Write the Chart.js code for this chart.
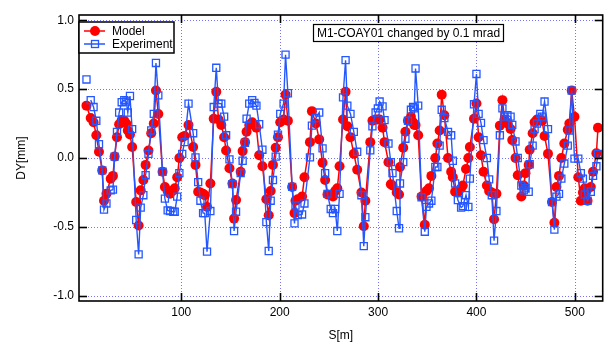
<!DOCTYPE html>
<html><head><meta charset="utf-8">
<script src="https://cdn.jsdelivr.net/npm/chart.js@4/dist/chart.umd.min.js"></script>
<style>html,body{margin:0;padding:0;background:#fff;}canvas{display:block;}</style>
</head><body>
<canvas id="c" width="609" height="343"></canvas>
<script>
// ---- data ----
const sPos = [3.7,8.0,10.9,13.7,16.4,19.7,21.5,24.0,28.3,30.6,32.3,34.7,36.9,39.5,42.1,44.1,45.7,47.9,50.1,54.2,
56.7,58.8,61.5,63.8,66.7,69.5,72.1,74.3,76.7,81.0,83.4,86.2,88.6,91.9,93.4,95.9,98.1,101.0,103.4,107.4,
112.1,114.5,117.2,119.5,122.2,123.9,126.2,129.6,133.0,135.6,137.9,140.7,143.6,145.6,149.0,152.0,153.7,155.7,160.4,162.4,
164.8,166.4,169.1,172.1,174.4,176.4,179.2,182.5,186.5,188.9,190.9,193.2,196.0,198.3,200.6,204.0,206.0,208.4,212.7,215.1,
216.1,218.4,222.8,225.2,230.8,232.8,236.8,240.2,243.6,246.2,248.6,251.9,254.2,256.4,258.6,260.9,264.4,267.0,268.8,272.0,
275.4,278.8,283.1,285.5,287.1,292.1,294.3,297.5,299.8,301.6,304.6,306.6,310.6,313.0,314.7,319.0,321.3,322.3,325.6,327.8,
330.4,333.4,335.6,336.8,338.1,340.8,344.2,347.5,349.2,351.8,354.2,358.2,360.3,362.6,364.7,367.4,371.1,374.3,376.0,378.3,
381.1,384.4,386.1,389.4,391.8,393.3,397.5,400.0,402.2,404.6,407.2,410.6,412.9,415.6,417.9,420.3,423.8,426.4,428.6,431.5,
434.7,436.4,439.7,442.0,445.6,448.1,449.8,453.1,454.1,457.1,459.1,461.5,464.9,466.7,469.2,472.7,476.8,479.2,481.3,483.9,
486.3,489.3,492.8,494.4,496.8,499.6,503.5,506.1,508.2,510.1,512.9,516.2,518.5,521.9,523.5];

const modelDY = [0.38,0.29,0.26,0.165,0.045,-0.09,-0.31,-0.26,-0.15,-0.13,0.01,0.15,0.245,0.275,0.27,0.25,0.20,0.17,0.08,-0.32,
-0.49,-0.235,-0.16,-0.05,0.055,0.18,0.25,0.49,0.32,-0.10,-0.21,-0.24,-0.26,-0.235,-0.22,-0.14,0.0,0.15,0.16,0.24,
0.08,-0.05,-0.245,-0.25,-0.26,-0.27,-0.355,-0.185,0.285,0.48,0.28,0.24,0.15,0.055,-0.075,-0.185,-0.44,-0.305,-0.10,0.05,
0.115,0.19,0.24,0.26,0.24,0.22,0.02,-0.06,-0.30,-0.415,-0.24,-0.05,0.075,0.15,0.26,0.28,0.46,0.27,-0.21,-0.40,
-0.31,-0.30,-0.28,-0.14,0.115,0.34,0.25,0.135,-0.035,-0.16,-0.265,-0.27,-0.28,-0.24,-0.22,-0.06,0.28,0.48,0.23,0.15,
0.03,-0.085,-0.25,-0.495,-0.31,0.115,0.27,0.28,0.28,0.28,0.22,0.115,-0.03,-0.19,-0.20,-0.25,-0.265,-0.065,0.075,0.19,
0.27,0.30,0.26,0.24,0.24,0.165,-0.28,-0.485,-0.24,-0.22,-0.13,0.0,0.105,0.20,0.46,0.31,0.0,-0.10,-0.14,-0.245,
-0.25,-0.22,-0.20,-0.08,0.0,0.08,0.285,0.395,0.15,0.02,-0.10,-0.20,-0.24,-0.25,-0.445,-0.26,0.235,0.42,0.28,0.25,
0.21,0.13,0.0,-0.125,-0.28,-0.20,-0.11,-0.05,0.06,0.18,0.26,0.28,0.27,0.27,0.16,0.03,-0.32,-0.47,-0.21,-0.13,
0.0,0.105,0.205,0.25,0.49,0.30,-0.14,-0.31,-0.25,-0.22,-0.31,-0.21,-0.10,0.035,0.22];

const expDY = [0.57,0.42,0.37,0.27,0.10,-0.09,-0.375,-0.33,-0.235,-0.23,0.01,0.19,0.33,0.405,0.42,0.41,0.33,0.45,0.21,-0.45,
-0.70,-0.36,-0.27,-0.125,0.03,0.20,0.32,0.69,0.455,-0.10,-0.295,-0.38,-0.385,-0.39,-0.39,-0.28,-0.11,0.03,0.115,0.395,
0.18,0.005,-0.175,-0.31,-0.40,-0.40,-0.68,-0.385,0.37,0.655,0.395,0.395,0.30,0.165,-0.01,-0.19,-0.53,-0.39,-0.11,-0.02,
0.11,0.285,0.395,0.42,0.40,0.38,0.245,0.06,-0.465,-0.675,-0.31,-0.16,0.01,0.17,0.32,0.395,0.75,0.47,-0.21,-0.475,
-0.345,-0.415,-0.41,-0.33,0.005,0.235,0.29,0.33,0.07,-0.11,-0.26,-0.37,-0.40,-0.37,-0.53,-0.26,0.44,0.71,0.38,0.32,
0.19,0.045,-0.27,-0.64,-0.43,0.055,0.23,0.33,0.36,0.41,0.375,0.275,0.105,-0.03,-0.11,-0.385,-0.51,-0.185,-0.03,0.14,
0.27,0.35,0.37,0.36,0.65,0.38,-0.285,-0.535,-0.355,-0.33,-0.31,-0.065,-0.065,0.09,0.35,0.29,0.19,0.165,-0.02,-0.185,
-0.305,-0.36,-0.35,-0.27,-0.355,-0.15,0.39,0.61,0.32,0.255,0.13,0.0,-0.155,-0.27,-0.60,-0.385,0.165,0.36,0.30,0.31,
0.30,0.24,0.12,0.0,-0.20,-0.235,-0.22,-0.245,-0.045,0.09,0.21,0.25,0.32,0.30,0.41,0.21,-0.32,-0.52,-0.28,-0.26,
-0.15,-0.04,0.09,0.20,0.49,-0.005,-0.005,-0.11,-0.15,-0.265,-0.31,-0.245,-0.13,-0.06,0.03];

const xTicks = [100, 200, 300, 400, 500];
const yTicks = [-1.0, -0.5, 0.0, 0.5, 1.0];
const seriesNames = ['Model', 'Experiment'];
const noteText = 'M1-COAY01 changed by 0.1 mrad';
const xTitle = 'S[m]';
const yTitle = 'DY[mm]';

// ---- styles ----
const RED = '#ff0000';
const BLUE = '#2457ff';
const FONT = '"Liberation Sans", Arial, sans-serif';

const modelPts = sPos.map((s, i) => ({x: s, y: modelDY[i]}));
const expPts = sPos.map((s, i) => ({x: s, y: expDY[i]}));

const framePlugin = {
  id: 'frame',
  beforeDatasetsDraw(chart) {
    const {ctx, chartArea: a, scales: {x, y}} = chart;
    ctx.save();
    ctx.strokeStyle = 'rgba(90,90,255,0.85)';
    ctx.lineWidth = 1;
    ctx.setLineDash([1, 2]);
    xTicks.forEach(v => {
      const px = Math.round(x.getPixelForValue(v)) + 0.5;
      ctx.beginPath(); ctx.moveTo(px, a.top); ctx.lineTo(px, a.bottom); ctx.stroke();
    });
    yTicks.forEach(v => {
      const py = Math.round(y.getPixelForValue(v)) + 0.5;
      ctx.beginPath(); ctx.moveTo(a.left, py); ctx.lineTo(a.right, py); ctx.stroke();
    });
    ctx.restore();
  },
  afterDatasetsDraw(chart) {
    const {ctx, chartArea: a, scales: {x, y}} = chart;
    ctx.save();
    ctx.strokeStyle = '#000';
    ctx.lineWidth = 1.6;
    ctx.setLineDash([]);
    ctx.strokeRect(a.left, a.top, a.right - a.left, a.bottom - a.top);
    const tl = 8;
    xTicks.forEach(v => {
      const px = Math.round(x.getPixelForValue(v)) + 0.5;
      ctx.beginPath(); ctx.moveTo(px, a.bottom); ctx.lineTo(px, a.bottom - tl); ctx.stroke();
      ctx.beginPath(); ctx.moveTo(px, a.top); ctx.lineTo(px, a.top + tl); ctx.stroke();
    });
    yTicks.forEach(v => {
      const py = Math.round(y.getPixelForValue(v)) + 0.5;
      ctx.beginPath(); ctx.moveTo(a.left, py); ctx.lineTo(a.left + tl, py); ctx.stroke();
      ctx.beginPath(); ctx.moveTo(a.right, py); ctx.lineTo(a.right - tl, py); ctx.stroke();
    });

    // legend
    ctx.font = '12px ' + FONT;
    ctx.textBaseline = 'middle';
    ctx.textAlign = 'left';
    const lx = a.left, ly = 22, lw = 95, lh = 31;
    ctx.fillStyle = '#fff';
    ctx.fillRect(lx, ly, lw, lh);
    ctx.lineWidth = 1.5;
    ctx.strokeStyle = '#000';
    ctx.strokeRect(lx, ly, lw, lh);
    let ry = 31;
    ctx.strokeStyle = RED; ctx.lineWidth = 1.5;
    ctx.beginPath(); ctx.moveTo(84, ry); ctx.lineTo(105, ry); ctx.stroke();
    ctx.fillStyle = RED; ctx.beginPath(); ctx.arc(95, ry, 5, 0, Math.PI * 2); ctx.fill();
    ctx.fillStyle = '#000'; ctx.fillText(seriesNames[0], 112, ry + 0.5);
    ry = 44;
    ctx.strokeStyle = BLUE; ctx.lineWidth = 1.5;
    ctx.beginPath(); ctx.moveTo(84, ry); ctx.lineTo(105, ry); ctx.stroke();
    ctx.lineWidth = 1.3;
    ctx.strokeRect(91.5, ry - 3.5, 7, 7);
    ctx.fillStyle = '#000'; ctx.fillText(seriesNames[1], 112, ry + 0.5);

    // note box
    ctx.fillStyle = '#fff';
    ctx.fillRect(313.5, 24.5, 190, 17);
    ctx.strokeStyle = '#000'; ctx.lineWidth = 1.2;
    ctx.strokeRect(313.5, 24.5, 190, 17);
    ctx.fillStyle = '#000';
    ctx.textAlign = 'center';
    ctx.fillText(noteText, 408.5, 33.5);
    ctx.restore();
  }
};

new Chart(document.getElementById('c'), {
  type: 'line',
  data: {
    datasets: [
      {
        label: seriesNames[1], data: expPts, order: 0,
        borderColor: BLUE, borderWidth: 1.4, backgroundColor: 'rgba(0,0,0,0)',
        pointStyle: 'rect', pointRadius: 5, pointBorderWidth: 1.3,
        pointBorderColor: BLUE, pointBackgroundColor: 'rgba(0,0,0,0)',
        tension: 0, fill: false,
        segment: { borderColor: c => c.p0DataIndex === 0 ? 'rgba(0,0,0,0)' : BLUE }
      },
      {
        label: seriesNames[0], data: modelPts, order: 1,
        borderColor: RED, borderWidth: 1.5, backgroundColor: RED,
        pointStyle: 'circle', pointRadius: 5, pointBorderWidth: 0,
        pointBackgroundColor: RED, tension: 0, fill: false
      }
    ]
  },
  options: {
    responsive: false, animation: false, devicePixelRatio: 1,
    layout: { padding: { top: 15, right: 1, left: 0, bottom: 0 } },
    plugins: { legend: { display: false }, tooltip: { enabled: false } },
    scales: {
      x: {
        type: 'linear', min: -3.9, max: 528.3,
        afterFit: s => { s.height = 42; },
        afterBuildTicks: s => { s.ticks = xTicks.map(v => ({value: v})); },
        grid: { display: false, drawTicks: false },
        border: { display: false },
        ticks: { color: '#000', font: { family: FONT, size: 12 }, padding: 4, maxRotation: 0, autoSkip: false,
                 callback: v => String(v) },
        title: { display: true, text: xTitle, color: '#000', font: { family: FONT, size: 12 }, padding: { top: 0, bottom: 0 } }
      },
      y: {
        type: 'linear', min: -1.038, max: 1.038,
        afterFit: s => { s.width = 79; },
        afterBuildTicks: s => { s.ticks = yTicks.map(v => ({value: v})); },
        grid: { display: false, drawTicks: false },
        border: { display: false },
        ticks: { color: '#000', font: { family: FONT, size: 12 }, padding: 5, autoSkip: false,
                 callback: v => Number(v).toFixed(1) },
        title: { display: true, text: yTitle, color: '#000', font: { family: FONT, size: 12 }, padding: { top: 14.5, bottom: 0 } }
      }
    }
  },
  plugins: [framePlugin]
});
</script>
</body></html>
